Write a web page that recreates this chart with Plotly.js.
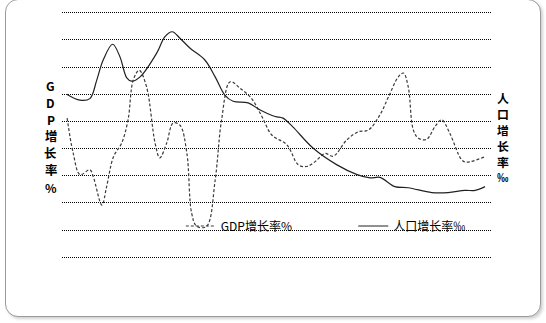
<!DOCTYPE html>
<html>
<head>
<meta charset="utf-8">
<script src="https://cdn.plot.ly/plotly-3.0.1.min.js"></script>
<style>
  html, body { margin: 0; padding: 0; background: #ffffff; }
  #wrap { position: relative; width: 546px; height: 323px; overflow: hidden; background: #fff; }
  #frame { position: absolute; left: 5px; top: -1px; width: 534px; height: 316px;
           border: 1.5px solid #9a9a9a; border-radius: 13px;
           box-shadow: 2px 2px 3px rgba(0,0,0,0.18); background: #fff; }
  #chart { position: absolute; left: 0; top: 0; width: 546px; height: 323px; }
</style>
</head>
<body>
<div id="wrap">
  <div id="frame"></div>
  <div id="chart"></div>
</div>
<script>
// time index (0-100 across the plot) and values
const popT = [1.1, 4.2, 6.5, 8.1, 9.6, 11.8, 13.5, 15.1, 16.2, 18.2, 22.1, 24.0, 25.7, 27.5, 29.8, 33.3, 35.7, 38.0, 39.9, 43.4, 46.2, 49.7, 51.5, 53.8, 58.5, 64.1, 68.8, 71.8, 74.1, 77.6, 80.7, 86.2, 90.0, 93.9, 96.3, 98.6];
const popRate = [30.0, 28.9, 29.2, 32.6, 36.3, 39.2, 36.9, 33.0, 32.4, 33.2, 37.6, 40.6, 41.5, 40.3, 38.5, 36.3, 33.2, 29.8, 28.7, 28.4, 27.1, 25.9, 25.6, 24.0, 20.1, 17.0, 15.2, 14.6, 14.7, 13.0, 12.8, 11.9, 11.9, 12.3, 12.3, 13.0];

const gdpT = [1.2, 2.6, 4.2, 6.5, 7.3, 9.3, 10.4, 12.0, 13.9, 15.4, 16.6, 18.0, 19.7, 21.7, 22.8, 24.4, 25.9, 27.5, 29.1, 30.2, 31.4, 33.7, 35.7, 37.2, 39.2, 41.5, 44.2, 46.6, 48.9, 52.4, 55.1, 57.0, 59.0, 61.3, 63.2, 66.4, 69.1, 71.4, 74.1, 76.1, 78.4, 79.6, 80.7, 81.9, 83.1, 85.0, 86.9, 88.5, 90.4, 93.2, 94.3, 98.6];
const gdpRate = [0.6, -5.8, -9.8, -8.9, -10.2, -15.4, -12.0, -6.5, -4.0, 0.3, 7.6, 9.4, 6.4, -4.0, -6.7, -4.0, -0.3, -0.7, -5.8, -16.8, -19.3, -19.3, -10.8, 0.3, 7.3, 6.1, 4.2, 0.9, -2.5, -4.3, -8.0, -8.3, -7.4, -5.9, -6.4, -3.4, -1.9, -1.6, 1.2, 4.5, 8.2, 8.9, 6.4, -1.6, -3.1, -3.3, -1.0, 0.3, -2.2, -7.1, -7.5, -6.5];

const gdpName = 'GDP增长率%';
const popName = '人口增长率‰';
const leftTitle = ['G', 'D', 'P', '增', '长', '率', '%'];
const rightTitle = ['人', '口', '增', '长', '率', '‰'];

const cjk = '"Noto Sans CJK SC", "Noto Sans", sans-serif';

const traces = [
  {
    x: gdpT, y: gdpRate, name: gdpName, type: 'scatter', mode: 'lines',
    line: { color: '#3a3a3a', width: 1.2, dash: '3px,2px', shape: 'spline', smoothing: 1 },
    yaxis: 'y', legend: 'legend'
  },
  {
    x: popT, y: popRate, name: popName, type: 'scatter', mode: 'lines',
    line: { color: '#222222', width: 1.2, shape: 'spline', smoothing: 1 },
    yaxis: 'y2', legend: 'legend2'
  }
];

// vertical stacked axis titles, one annotation per character
const H = 323, T = 10, B = 63, PH = H - T - B;
function pyToPaper(py) { return (H - B - py) / PH; }
const annotations = [];
leftTitle.forEach((ch, i) => {
  annotations.push({ xref: 'paper', yref: 'paper', x: -0.026, y: pyToPaper(85 + 17 * i),
    xanchor: 'center', yanchor: 'middle', showarrow: false, borderpad: 0,
    text: '<b>' + ch + '</b>',
    font: { family: cjk, size: (i < 3 || i === 6) ? 12 : 12.4, color: '#000' } });
});
rightTitle.forEach((ch, i) => {
  annotations.push({ xref: 'paper', yref: 'paper', x: 1.028, y: pyToPaper(97 + 16.1 * i),
    xanchor: 'center', yanchor: 'middle', showarrow: false, borderpad: 0,
    text: '<b>' + ch + '</b>',
    font: { family: cjk, size: i === 5 ? 11.5 : 11.9, color: '#000' } });
});

const layout = {
  width: 546, height: 323,
  margin: { l: 62, r: 55, t: T, b: B },
  paper_bgcolor: 'rgba(0,0,0,0)',
  plot_bgcolor: 'rgba(0,0,0,0)',
  showlegend: true,
  xaxis: { range: [0, 100], showgrid: false, zeroline: false, showline: false,
           showticklabels: false, ticks: '' },
  yaxis: { range: [-25.5, 20.5], dtick: 5, tick0: -25, showgrid: true,
           gridcolor: '#000000', gridwidth: 1, griddash: '1px,1px',
           zeroline: false, showline: false, showticklabels: false, ticks: '' },
  yaxis2: { range: [-0.5, 45.5], overlaying: 'y', side: 'right', showgrid: false,
            zeroline: false, showline: false, showticklabels: false, ticks: '' },
  legend: { x: 0.277, xanchor: 'left', y: pyToPaper(226), yanchor: 'middle',
            bgcolor: 'rgba(0,0,0,0)', font: { family: cjk, size: 12, color: '#000' } },
  legend2: { x: 0.679, xanchor: 'left', y: pyToPaper(226), yanchor: 'middle',
             bgcolor: 'rgba(0,0,0,0)', font: { family: cjk, size: 12, color: '#000' } },
  annotations: annotations
};

Plotly.newPlot('chart', traces, layout, { displayModeBar: false, staticPlot: true });
</script>
</body>
</html>
